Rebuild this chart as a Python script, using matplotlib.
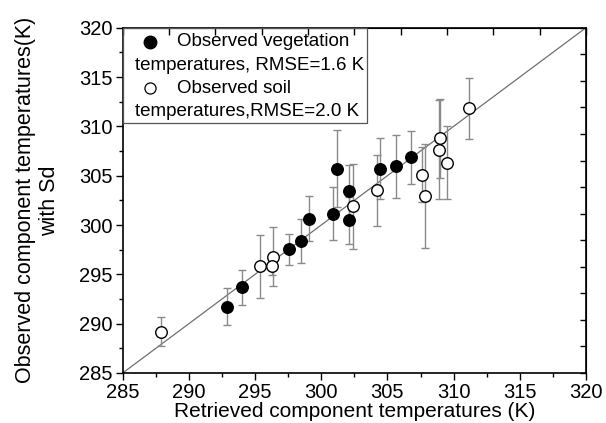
import matplotlib
matplotlib.use("Agg")
import matplotlib.pyplot as plt
import numpy as np
from matplotlib.patches import Rectangle

plt.rcParams['font.family'] = ['Liberation Sans', 'DejaVu Sans']

# observed vegetation temperatures (retrieved, observed, sd)
veg_x = [292.85, 293.99, 297.56, 298.47, 299.07, 300.90, 301.16, 302.09, 302.09, 304.43, 305.62, 306.75]
veg_y = [291.73, 293.68, 297.52, 298.39, 300.65, 301.15, 305.69, 303.43, 300.47, 305.69, 305.95, 306.86]
veg_sd = [1.9, 1.8, 1.6, 2.2, 2.3, 2.7, 3.9, 2.7, 2.4, 3.1, 3.2, 2.7]

# observed soil temperatures
soil_x = [287.87, 295.37, 296.33, 296.30, 302.42, 304.18, 307.58, 307.86, 308.97, 308.87, 309.47, 311.18]
soil_y = [289.20, 295.83, 296.77, 295.83, 301.89, 303.50, 305.09, 302.93, 308.78, 307.64, 306.33, 311.85]
soil_sd = [1.5, 3.2, 3.0, 0.9, 4.3, 3.6, 2.8, 5.3, 4.0, 5.0, 3.7, 3.1]

lims = [285, 320]

W, H = 606, 423
fig = plt.figure(figsize=(W / 100, H / 100), dpi=100)
ax = fig.add_axes([122.7 / W, 1 - 373 / H, (586 - 122.7) / W, (373 - 27.7) / H])

# 1:1 line
ax.plot(lims, lims, color='#707070', lw=0.9, zorder=1)

ekw = dict(fmt='none', ecolor='#8a8a8a', elinewidth=1.0, capsize=3.2, capthick=1.0, zorder=2)
ax.errorbar(veg_x, veg_y, yerr=veg_sd, **ekw)
ax.errorbar(soil_x, soil_y, yerr=soil_sd, **ekw)
ax.plot(veg_x, veg_y, 'o', ms=8.3, mfc='black', mec='black', zorder=3)
ax.plot(soil_x, soil_y, 'o', ms=8.3, mfc='white', mec='black', mew=1.0, zorder=3)

ax.set_xlim(lims)
ax.set_ylim(lims)
ax.set_xticks(np.arange(285, 321, 5))
ax.set_yticks(np.arange(285, 321, 5))
ax.set_xticks(np.arange(287.5, 320, 5), minor=True)
ax.set_yticks(np.arange(287.5, 320, 5), minor=True)
ax.tick_params(which='major', direction='out', length=5, width=1, labelsize=14.5, pad=2)
ax.tick_params(which='minor', direction='out', length=3, width=1)
for s in ax.spines.values():
    s.set_linewidth(1.2)

# opposite axes: inward ticks, no labels
top = ax.secondary_xaxis('top')
top.set_xticks(np.arange(285, 320.1, 3.5))
top.tick_params(direction='in', length=5, width=1, labeltop=False)
right = ax.secondary_yaxis('right')
right.set_yticks(np.arange(285, 320.1, 35 / 13))
right.tick_params(direction='in', length=4, width=1, labelright=False)

ax.set_xlabel('Retrieved component temperatures (K)', fontsize=15, labelpad=0)
ax.set_ylabel('Observed component temperatures(K)\nwith Sd', fontsize=15.5, labelpad=14)

# legend box drawn by hand to keep the wrapped labels
tf = fig.transFigure
fig.patches.append(Rectangle((122.7 / W, 1 - 123 / H), (367 - 122.7) / W, (123 - 27.7) / H,
                             transform=tf, fill=False, ec='#555555', lw=0.9, zorder=5))
fig.lines.append(plt.Line2D([150 / W], [1 - 42 / H], transform=tf, marker='o', ms=9,
                            mfc='black', mec='black', ls='none'))
fig.lines.append(plt.Line2D([150 / W], [1 - 88.5 / H], transform=tf, marker='o', ms=8,
                            mfc='white', mec='black', mew=0.9, ls='none'))
lkw = dict(transform=tf, fontsize=13.5, va='center', ha='left')
fig.text(177 / W, 1 - 42 / H, 'Observed vegetation', **lkw)
fig.text(135 / W, 1 - 65 / H, 'temperatures, RMSE=1.6 K', **lkw)
fig.text(177 / W, 1 - 88.5 / H, 'Observed soil', **lkw)
fig.text(135 / W, 1 - 112 / H, 'temperatures,RMSE=2.0 K', **lkw)

fig.savefig('out.png', dpi=100)
